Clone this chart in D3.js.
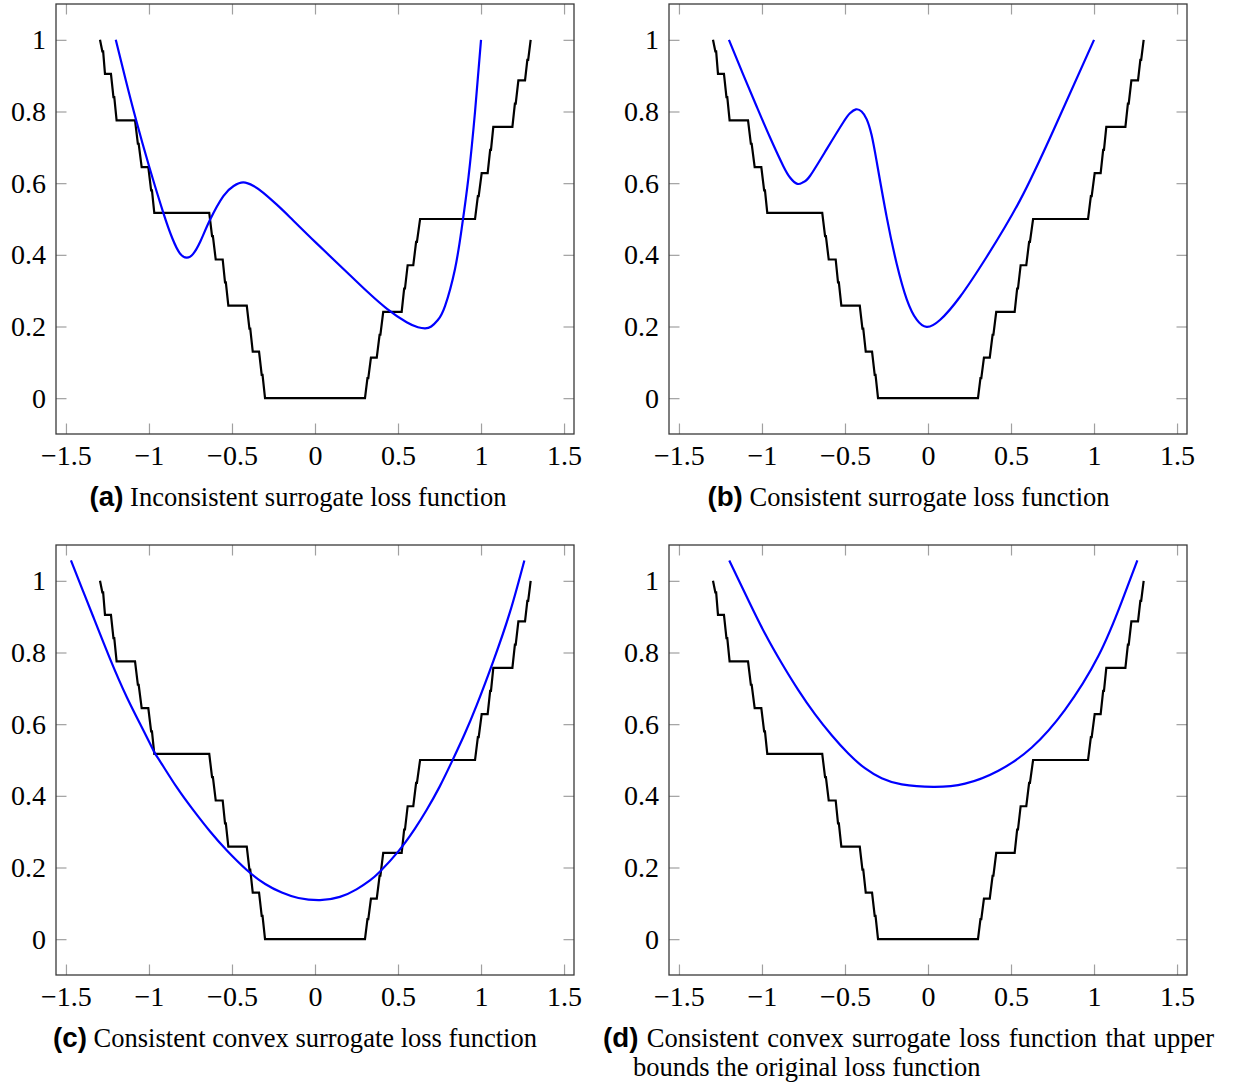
<!DOCTYPE html>
<html><head><meta charset="utf-8">
<script src="https://cdn.jsdelivr.net/npm/d3@7"></script>
<style>
body{margin:0;background:#fff}
svg{display:block}
.tick text{font-family:"Liberation Serif","DejaVu Serif",serif;fill:#000}
</style>
</head><body>
<svg id="chart" width="1239" height="1086"></svg>
<script>
// ---------- data ----------
const xTicks = [-1.5, -1, -0.5, 0, 0.5, 1, 1.5];
const yTicks = [0, 0.2, 0.4, 0.6, 0.8, 1];

// original (step) loss function, same in all four panels
const stepLoss = [
  [-1.295, 1.000], [-1.281, 0.968], [-1.276, 0.968], [-1.265, 0.905],
  [-1.229, 0.905], [-1.214, 0.840], [-1.209, 0.840], [-1.195, 0.775],
  [-1.084, 0.775], [-1.067, 0.710], [-1.062, 0.710], [-1.044, 0.645],
  [-1.004, 0.645], [-0.987, 0.580], [-0.982, 0.580], [-0.968, 0.517],
  [-0.637, 0.517], [-0.620, 0.452], [-0.615, 0.452], [-0.598, 0.387],
  [-0.556, 0.387], [-0.542, 0.323], [-0.537, 0.323], [-0.522, 0.258],
  [-0.411, 0.258], [-0.395, 0.194], [-0.390, 0.194], [-0.375, 0.130],
  [-0.337, 0.130], [-0.321, 0.065], [-0.316, 0.065], [-0.301, 0.000],
  [0.301, 0.000], [0.316, 0.056], [0.321, 0.056], [0.337, 0.113],
  [0.372, 0.113], [0.389, 0.177], [0.394, 0.177], [0.411, 0.241],
  [0.522, 0.241], [0.537, 0.306], [0.542, 0.306], [0.558, 0.371],
  [0.592, 0.371], [0.609, 0.436], [0.614, 0.436], [0.633, 0.500],
  [0.964, 0.500], [0.981, 0.564], [0.986, 0.564], [1.004, 0.628],
  [1.040, 0.628], [1.055, 0.693], [1.060, 0.693], [1.074, 0.757],
  [1.189, 0.757], [1.204, 0.822], [1.209, 0.822], [1.225, 0.887],
  [1.265, 0.887], [1.279, 0.944], [1.284, 0.944], [1.299, 1.000]
];

// (a) inconsistent surrogate
const surrogateA = [
  [-1.200, 1.000], [-1.140, 0.888], [-1.078, 0.777], [-0.998, 0.645],
  [-0.914, 0.518], [-0.860, 0.447], [-0.815, 0.405], [-0.773, 0.392],
  [-0.735, 0.402], [-0.690, 0.438], [-0.633, 0.497], [-0.552, 0.564],
  [-0.490, 0.592], [-0.432, 0.602], [-0.370, 0.592], [-0.311, 0.573],
  [-0.230, 0.540], [-0.151, 0.505], [0.010, 0.432], [0.211, 0.343],
  [0.311, 0.299], [0.432, 0.250], [0.552, 0.212], [0.620, 0.198],
  [0.663, 0.195], [0.700, 0.200], [0.740, 0.218], [0.783, 0.257],
  [0.843, 0.360], [0.884, 0.475], [0.924, 0.615], [0.964, 0.800],
  [1.000, 1.000]
];

// (b) consistent surrogate
const surrogateB = [
  [-1.199, 1.000], [-1.113, 0.903], [-1.032, 0.814], [-0.952, 0.728],
  [-0.872, 0.648], [-0.830, 0.615], [-0.787, 0.598], [-0.750, 0.603],
  [-0.711, 0.620], [-0.610, 0.695], [-0.510, 0.770], [-0.470, 0.795],
  [-0.434, 0.806], [-0.400, 0.800], [-0.369, 0.778], [-0.340, 0.735],
  [-0.309, 0.660], [-0.249, 0.506], [-0.189, 0.376], [-0.128, 0.276],
  [-0.068, 0.219], [-0.008, 0.199], [0.072, 0.218], [0.193, 0.283],
  [0.353, 0.394], [0.554, 0.552], [0.755, 0.747], [1.000, 1.000]
];

// (c) consistent convex surrogate
const surrogateC = [
  [-1.470, 1.057], [-1.400, 0.975], [-1.335, 0.899], [-1.235, 0.783],
  [-1.134, 0.676], [-1.034, 0.583], [-0.968, 0.522], [-0.934, 0.497],
  [-0.833, 0.424], [-0.733, 0.360], [-0.633, 0.301], [-0.532, 0.248],
  [-0.411, 0.193], [-0.300, 0.154], [-0.200, 0.130], [-0.100, 0.115],
  [0.030, 0.109], [0.150, 0.118], [0.250, 0.139], [0.331, 0.164],
  [0.392, 0.189], [0.502, 0.245], [0.600, 0.307], [0.673, 0.361],
  [0.750, 0.425], [0.823, 0.494], [0.900, 0.571], [0.974, 0.653],
  [1.074, 0.776], [1.175, 0.914], [1.261, 1.057]
];

// (d) consistent convex upper-bounding surrogate
const surrogateD = [
  [-1.197, 1.057], [-1.082, 0.946], [-0.982, 0.853], [-0.881, 0.770],
  [-0.781, 0.695], [-0.681, 0.628], [-0.580, 0.569], [-0.480, 0.518],
  [-0.380, 0.477], [-0.279, 0.449], [-0.158, 0.432], [0.032, 0.425],
  [0.223, 0.434], [0.424, 0.470], [0.625, 0.535], [0.825, 0.640],
  [1.026, 0.790], [1.167, 0.942], [1.261, 1.057]
];

const captionLabels = ["(a)", "(b)", "(c)", "(d)"];
const captionLines = [
  ["Inconsistent surrogate loss function"],
  ["Consistent surrogate loss function"],
  ["Consistent convex surrogate loss function"],
  ["Consistent convex surrogate loss function that upper", "bounds the original loss function"]
];

// ---------- layout ----------
const W = 518, H = 430;
const panels = [
  {ox: 56,  oy: 4,   curve: surrogateA, capCx: 298,   capBase: 506},
  {ox: 669, oy: 4,   curve: surrogateB, capCx: 908.5, capBase: 506},
  {ox: 56,  oy: 545, curve: surrogateC, capCx: 295,   capBase: 1047},
  {ox: 669, oy: 545, curve: surrogateD, capLeft: 603, capRight: 1214, capBase: 1047, cap2Left: 633, cap2Base: 1076}
];

const x = d3.scaleLinear().domain([-1.56, 1.56]).range([0, W]);
const y = d3.scaleLinear().domain([-0.1, 1.1]).range([H, 0]);
const fmt = d3.format("");

const svg = d3.select("#chart");
const tickLen = 10.5, tickColor = "#a0a0a0";
const lineStep = d3.line().x(d => x(d[0])).y(d => y(d[1]));
const lineSmooth = d3.line().x(d => x(d[0])).y(d => y(d[1])).curve(d3.curveNatural);

panels.forEach((p, i) => {
  const g = svg.append("g").attr("transform", `translate(${p.ox},${p.oy})`);

  // axes with inward ticks on all four sides
  const bottom = g.append("g").attr("transform", `translate(0,${H})`)
    .call(d3.axisBottom(x).tickValues(xTicks).tickSize(-tickLen).tickFormat(fmt));
  const top = g.append("g")
    .call(d3.axisTop(x).tickValues(xTicks).tickSize(-tickLen).tickFormat(""));
  const left = g.append("g")
    .call(d3.axisLeft(y).tickValues(yTicks).tickSize(-tickLen).tickFormat(fmt));
  const right = g.append("g").attr("transform", `translate(${W},0)`)
    .call(d3.axisRight(y).tickValues(yTicks).tickSize(-tickLen).tickFormat(""));

  [bottom, top, left, right].forEach(a => {
    a.select(".domain").remove();
    a.selectAll(".tick line").attr("stroke", tickColor).attr("stroke-width", 1.2);
  });
  bottom.selectAll(".tick text").attr("dy", null).attr("y", 31)
    .style("font-size", "28px");
  left.selectAll(".tick text").attr("dy", null).attr("x", -10).attr("y", 9)
    .style("font-size", "28px");

  // plot box
  g.append("rect").attr("x", 0).attr("y", 0).attr("width", W).attr("height", H)
    .attr("fill", "none").attr("stroke", "#3a3a3a").attr("stroke-width", 1.3);

  // step loss (black)
  g.append("path").datum(stepLoss).attr("d", lineStep)
    .attr("fill", "none").attr("stroke", "#000").attr("stroke-width", 2.2)
    .attr("stroke-linejoin", "miter");

  // surrogate (blue)
  g.append("path").datum(p.curve).attr("d", lineSmooth)
    .attr("fill", "none").attr("stroke", "#0000ff").attr("stroke-width", 2.2);
});

// ---------- captions ----------
const serif = '"Liberation Serif","DejaVu Serif",serif';
const sans = '"Liberation Sans","DejaVu Sans",sans-serif';
let capSize = 22, labSize = 23;

function makeCaption(parent, label, text, xPos, base, sz, lsz) {
  const t = parent.append("text").attr("x", xPos).attr("y", base);
  if (label) {
    t.append("tspan").text(label).style("font-family", sans)
      .style("font-weight", "bold").style("font-size", lsz + "px");
    t.append("tspan").text(" " + text).style("font-family", serif).style("font-size", sz + "px");
  } else {
    t.append("tspan").text(text).style("font-family", serif).style("font-size", sz + "px");
  }
  return t;
}

// fit caption size so that caption (c) spans the measured width
const probe = makeCaption(svg, captionLabels[2], captionLines[2][0], 0, -100, capSize, labSize);
const w0 = probe.node().getComputedTextLength();
probe.remove();
const scale = 484 / w0;
capSize *= scale; labSize *= scale;

panels.forEach((p, i) => {
  if (p.capCx !== undefined) {
    const t = makeCaption(svg, captionLabels[i], captionLines[i][0], 0, p.capBase, capSize, labSize);
    const w = t.node().getComputedTextLength();
    t.attr("x", p.capCx - w / 2);
  } else {
    const t1 = makeCaption(svg, captionLabels[i], captionLines[i][0], p.capLeft, p.capBase, capSize, labSize);
    const w = t1.node().getComputedTextLength();
    const spaces = (captionLines[i][0].match(/ /g) || []).length + 1;
    const extra = (p.capRight - p.capLeft - w) / spaces;
    t1.selectAll("tspan").style("word-spacing", extra + "px");
    makeCaption(svg, null, captionLines[i][1], p.cap2Left, p.cap2Base, capSize, labSize);
  }
});
</script>
</body></html>
